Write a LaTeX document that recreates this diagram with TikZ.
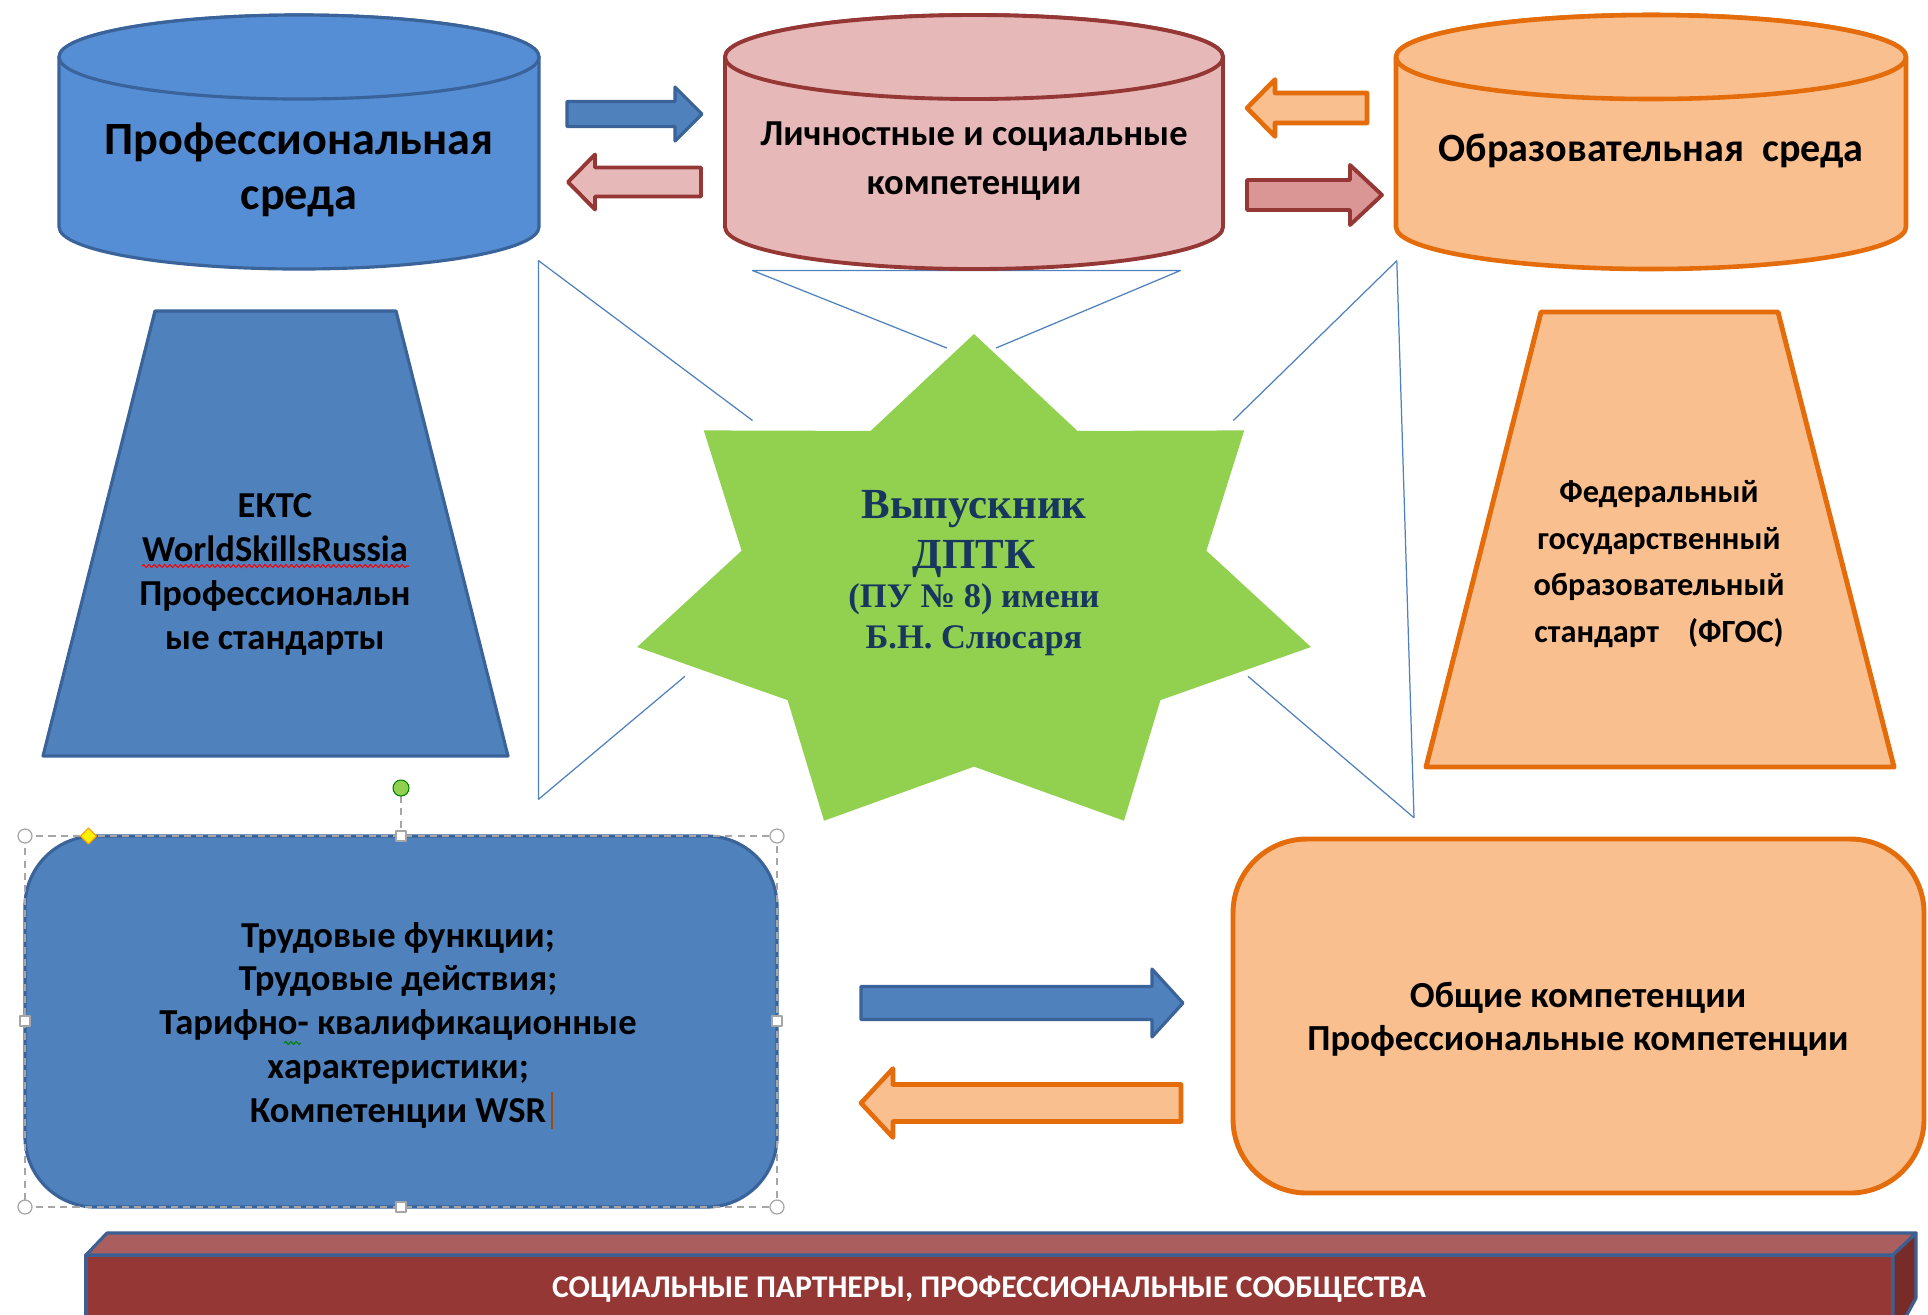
\documentclass[tikz,border=0pt]{standalone}
\usepackage{fontspec}
\setmainfont{Carlito}
\newfontfamily\serifb{Liberation Serif}
\usetikzlibrary{decorations.pathmorphing}
\definecolor{cylblue}{HTML}{558ED5}
\definecolor{darkblue}{HTML}{3A639A}
\definecolor{midblue}{HTML}{4F81BD}
\definecolor{pinkfill}{HTML}{E6B9B8}
\definecolor{darkred}{HTML}{953735}
\definecolor{rosefill}{HTML}{D99694}
\definecolor{orfill}{HTML}{F9BF8F}
\definecolor{ordraw}{HTML}{E46C0A}
\definecolor{stargreen}{HTML}{92D050}
\definecolor{navy}{HTML}{17375E}
\definecolor{bartop}{HTML}{AA5F5E}
\definecolor{barside}{HTML}{772C2A}
\definecolor{barline}{HTML}{3B6091}
\tikzset{
  thinline/.style={draw=midblue, line width=0.35pt},
  bluecyl/.style={fill=cylblue, draw=darkblue, line width=0.9pt},
  pinkcyl/.style={fill=pinkfill, draw=darkred, line width=1.1pt},
  orcyl/.style={fill=orfill, draw=ordraw, line width=1.3pt},
  bluearrow/.style={fill=midblue, draw=darkblue, line width=0.9pt},
  pinkarrow/.style={fill=pinkfill, draw=darkred, line width=1.1pt},
  rosearrow/.style={fill=rosefill, draw=darkred, line width=1.1pt},
  orarrow/.style={fill=orfill, draw=ordraw, line width=1.3pt},
  txt/.style={align=center, inner sep=0pt, font=\bfseries},
  handle/.style={draw=gray!70, fill=white, line width=0.35pt}
}
% arrow polygon: x0 (tail), xh (head base), xt (tip), yc, half shaft, half head, style
\newcommand\myArrowPoly[7]{\draw[#7] (#1,#4-#5) -- (#2,#4-#5) -- (#2,#4-#6) -- (#3,#4) -- (#2,#4+#6) -- (#2,#4+#5) -- (#1,#4+#5) -- cycle;}
% cylinder: x1, x2, cx, ytop centre, ybottom centre, ry, style
\newcommand\myCyl[7]{%
  \path[#7] (#1,#4) -- (#1,#5) arc[start angle=180, end angle=0, x radius={(#2-#1)/2}, y radius=#6] -- (#2,#4) arc[start angle=0, end angle=-180, x radius={(#2-#1)/2}, y radius=#6] -- cycle;
  \path[#7] (#3,#4) ellipse[x radius={(#2-#1)/2}, y radius=#6];}
\begin{document}
\begin{tikzpicture}[x=0.01cm, y=-0.01cm, line join=round]
\useasboundingbox (0,0) rectangle (1928,1314);
\fill[white] (0,0) rectangle (1928,1314);

% thin blue lines behind the star
\draw[thinline] (684.9,676.3) -- (538.6,799.2) -- (538.6,260.7) -- (752.5,420.5);
\draw[thinline] (946.8,348) -- (752.5,270.5) -- (1180.4,270.5) -- (996,348);
\draw[thinline] (1233.3,420.5) -- (1396.8,260.7) -- (1414,817.7) -- (1248,676.3);

% cylinders
\myCyl{59}{539}{299}{57}{227}{42}{bluecyl}
\myCyl{725}{1223}{974}{57}{227}{42}{pinkcyl}
\myCyl{1396}{1906}{1651}{57}{227}{42}{orcyl}
\node[txt, font=\bfseries\fontsize{13.15}{15.6}\selectfont] (prof) at (299,170) {Профессиональная\\среда};
\node[txt, font=\bfseries\fontsize{10.4}{13.9}\selectfont] (lich) at (974,161) {Личностные и социальные\\компетенции};
\node[txt, font=\bfseries\fontsize{11.4}{14}\selectfont] (obr) at (1651,151) {Образовательная\hspace{0.45em}среда};

% top arrows
\myArrowPoly{567}{675}{702}{114}{12.5}{27}{bluearrow}
\myArrowPoly{701}{595}{568}{182}{14.5}{27.5}{pinkarrow}
\myArrowPoly{1367}{1275}{1247}{108}{15}{28.5}{orarrow}
\myArrowPoly{1247}{1350}{1382}{195}{15}{30}{rosearrow}

% trapezoids
\draw[fill=midblue, draw=darkblue, line width=0.9pt] (155,311) -- (396,311) -- (508,756) -- (43,756) -- cycle;
\node[txt, font=\bfseries\fontsize{10.4}{12.5}\selectfont] (ekts) at (275,574) {ЕКТС\\WorldSkillsRussia\\Профессиональн\\ые стандарты};
\draw[red, line width=0.3pt, decorate, decoration={snake, amplitude=0.45pt, segment length=1.5pt}] (142,566) -- (409,566);
\draw[fill=orfill, draw=ordraw, line width=1.4pt] (1541,312) -- (1778,312) -- (1894,767) -- (1426,767) -- cycle;
\node[txt, font=\bfseries\fontsize{9.2}{13.2}\selectfont] (fgos) at (1659,564) {Федеральный\\государственный\\образовательный\\стандарт\hspace{0.9em}(ФГОС)};

% star
\fill[stargreen] (974,334) -- (870.6,430.9) -- (703.8,430.4) -- (741.6,550.7) -- (637.1,647) -- (787.6,700.1) -- (824,820.7) -- (974,766.6) -- (1124,820.7) -- (1160.4,700.1) -- (1310.9,647) -- (1206.4,550.7) -- (1244.2,430.4) -- (1077.4,430.9) -- cycle;
\node[txt, text=navy, font=\serifb\bfseries\fontsize{12.2}{14}\selectfont] (vyp) at (974,534) {Выпускник\\ДПТК};
\node[txt, text=navy, font=\serifb\bfseries\fontsize{9.8}{11.7}\selectfont] (pu) at (974,619.5) {(ПУ № 8) имени\\Б.Н. Слюсаря};

% bottom-left rounded box with selection handles
\draw[fill=midblue, draw=darkblue, line width=0.9pt, rounded corners=20pt] (25,836) rectangle (777,1207);
\node[txt, font=\bfseries\fontsize{10.4}{12.45}\selectfont] (trud) at (398,1025) {Трудовые функции;\\Трудовые действия;\\Тарифно- квалификационные\\характеристики;\\Компетенции WSR};
\draw[green!50!black, line width=0.3pt, decorate, decoration={snake, amplitude=0.45pt, segment length=1.5pt}] (284,1043) -- (301,1043);
\draw[color=ordraw!70!black, line width=0.5pt] (552,1092) -- (552,1129);
\draw[gray!70, line width=0.35pt, dash pattern=on 2pt off 1.5pt] (25,836) rectangle (777,1207);
\draw[gray!70, line width=0.35pt, dash pattern=on 2pt off 1.5pt] (401,796) -- (401,836);
\foreach \hx/\hy in {25/836, 777/836, 25/1207, 777/1207}
  \draw[handle] (\hx,\hy) circle[radius=7];
\foreach \hx/\hy in {401/836, 401/1207, 25/1021, 777/1021}
  \draw[handle] (\hx-5,\hy-5) rectangle (\hx+5,\hy+5);
\draw[fill=stargreen, draw=green!50!black, line width=0.3pt] (401,788) circle[radius=8];
\draw[fill=yellow, draw=orange!80!yellow, line width=0.3pt] (88.5,828) -- (96.5,836) -- (88.5,844) -- (80.5,836) -- cycle;

% bottom arrows
\myArrowPoly{861}{1152}{1183}{1003}{16.5}{34}{bluearrow}
\myArrowPoly{1181}{893}{861}{1103}{18.5}{34.5}{orarrow}

% bottom-right rounded box
\draw[fill=orfill, draw=ordraw, line width=1.4pt, rounded corners=21pt] (1233,839) rectangle (1924,1193);
\node[txt, font=\bfseries\fontsize{10.45}{12.2}\selectfont] (obsh) at (1578,1019) {Общие компетенции\\Профессиональные компетенции};

% bottom bar (3-D)
\begin{scope}
\clip (0,0) rectangle (1928,1314);
\draw[fill=darkred, draw=barline, line width=0.9pt] (86,1255) rectangle (1893,1340);
\draw[fill=bartop, draw=barline, line width=0.9pt] (86,1255) -- (107,1233) -- (1916,1233) -- (1893,1255) -- cycle;
\draw[fill=barside, draw=barline, line width=0.9pt] (1893,1255) -- (1916,1233) -- (1916,1298) -- (1893,1340) -- cycle;
\end{scope}
\node[txt, text=white, font=\bfseries\fontsize{9}{10}\selectfont] (bar) at (989,1289) {СОЦИАЛЬНЫЕ ПАРТНЕРЫ, ПРОФЕССИОНАЛЬНЫЕ СООБЩЕСТВА};
\end{tikzpicture}
\end{document}
